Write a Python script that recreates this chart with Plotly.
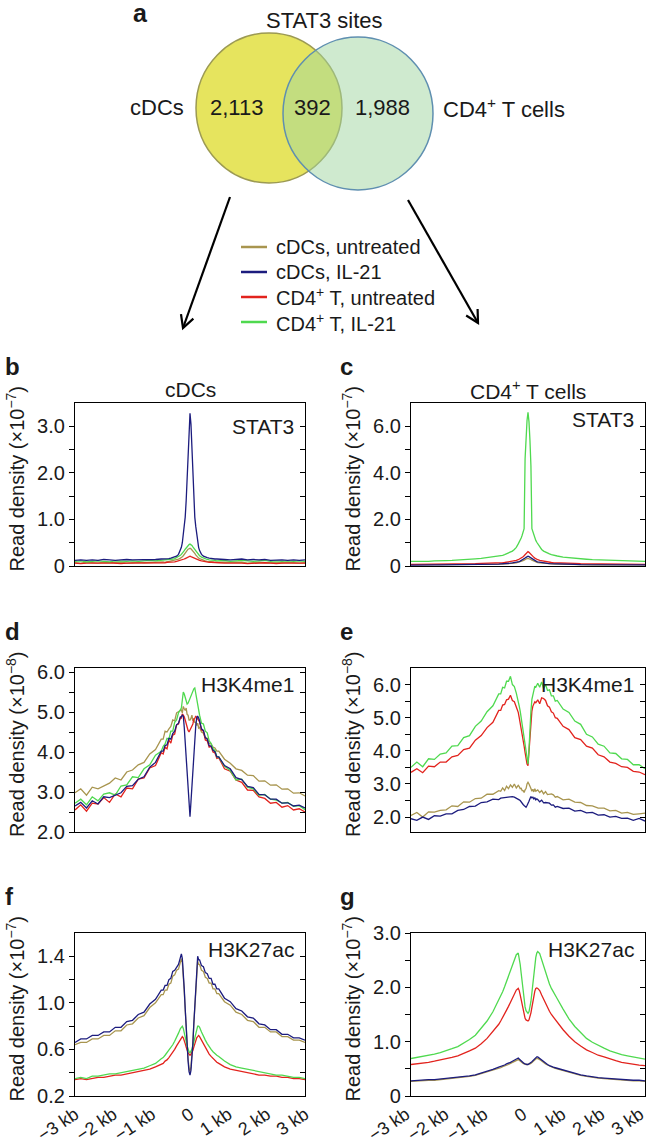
import math
import plotly.graph_objects as go

W, H = 650, 1144
FONT = "Liberation Sans, Arial, Helvetica, sans-serif"
INK = "#1a1a1a"

# ---------------- data ----------------
X_BP = [-3000, -2850, -2700, -2550, -2400, -2250, -2100, -1950, -1800, -1650, -1500, -1350, -1200, -1050, -900, -750,
        -700, -650, -600, -550, -500, -450, -400, -350, -300, -250,
        -225, -200, -175, -150, -125, -100, -75, -50, -25, 0, 25, 50, 75, 100, 125, 150, 175, 200, 225,
        250, 300, 350, 400, 450, 500, 550, 600, 650, 700,
        750, 900, 1050, 1200, 1350, 1500, 1650, 1800, 1950, 2100, 2250, 2400, 2550, 2700, 2850, 3000]

SERIES = ["cDCs, untreated", "cDCs, IL-21", "CD4<sup>+</sup> T, untreated", "CD4<sup>+</sup> T, IL-21"]
COLORS = ["#a8954f", "#1c1c7e", "#e2231d", "#4fd94f"]

VENN_TITLE = "STAT3 sites"
VENN_SETS = ["cDCs", "CD4<sup>+</sup> T cells"]
VENN_COUNTS = ["2,113", "392", "1,988"]

X_TICKVALS = [-3000, -2000, -1000, 0, 1000, 2000, 3000]
X_TICKTEXT = ["\u22123 kb", "\u22122 kb", "\u22121 kb", "0", "1 kb", "2 kb", "3 kb"]

# panel b : cDCs, STAT3 (x1e-7)
B_UNT_CDC = [0.07,0.06,0.08,0.07,0.06,0.08,0.07,0.07,0.08,0.06,0.07,0.08,0.07,0.08,0.08,0.09,
             0.09,0.08,0.09,0.10,0.10,0.11,0.12,0.13,0.15,0.17,
             0.18,0.20,0.22,0.25,0.28,0.31,0.34,0.36,0.37,0.38,0.37,0.35,0.33,0.30,0.27,0.24,0.21,0.19,0.17,
             0.16,0.14,0.12,0.11,0.10,0.10,0.09,0.09,0.08,0.08,
             0.08,0.07,0.08,0.07,0.08,0.06,0.07,0.08,0.07,0.07,0.06,0.07,0.08,0.07,0.06,0.07]
B_IL21_CDC = [0.12,0.13,0.12,0.13,0.12,0.14,0.13,0.12,0.13,0.14,0.13,0.13,0.14,0.13,0.14,0.15,
              0.15,0.15,0.16,0.16,0.17,0.18,0.19,0.21,0.25,0.33,
              0.40,0.50,0.65,0.85,1.05,1.40,1.90,2.50,3.05,3.28,3.05,2.50,1.90,1.40,1.05,0.85,0.65,0.50,0.40,
              0.33,0.25,0.21,0.19,0.18,0.17,0.16,0.16,0.15,0.15,
              0.15,0.14,0.13,0.14,0.15,0.13,0.14,0.13,0.14,0.12,0.13,0.13,0.12,0.13,0.12,0.13]
B_UNT_CD4 = [0.06,0.05,0.06,0.06,0.05,0.06,0.07,0.06,0.05,0.06,0.06,0.07,0.06,0.06,0.07,0.07,
             0.07,0.07,0.08,0.08,0.08,0.09,0.09,0.10,0.11,0.12,
             0.12,0.13,0.14,0.15,0.16,0.17,0.18,0.19,0.20,0.21,0.20,0.19,0.18,0.17,0.16,0.15,0.14,0.13,0.12,
             0.12,0.11,0.10,0.09,0.09,0.08,0.08,0.08,0.07,0.07,
             0.07,0.06,0.06,0.07,0.06,0.05,0.06,0.06,0.07,0.06,0.05,0.06,0.06,0.05,0.06,0.06]
B_IL21_CD4 = [0.10,0.11,0.09,0.10,0.11,0.10,0.09,0.11,0.10,0.10,0.11,0.10,0.11,0.12,0.11,0.12,
              0.12,0.13,0.13,0.14,0.14,0.15,0.16,0.18,0.20,0.23,
              0.25,0.27,0.30,0.33,0.36,0.39,0.42,0.44,0.46,0.47,0.46,0.44,0.41,0.38,0.35,0.32,0.29,0.26,0.24,
              0.22,0.19,0.17,0.15,0.14,0.13,0.13,0.12,0.12,0.11,
              0.11,0.12,0.10,0.11,0.12,0.11,0.10,0.11,0.12,0.10,0.11,0.10,0.11,0.10,0.11,0.10]

# panel c : CD4+ T cells, STAT3 (x1e-7)
C_UNT_CDC = [0.05,0.05,0.06,0.05,0.05,0.06,0.05,0.06,0.06,0.05,0.06,0.06,0.07,0.07,0.07,0.08,
             0.08,0.08,0.09,0.09,0.10,0.10,0.11,0.12,0.13,0.15,
             0.16,0.17,0.19,0.21,0.23,0.25,0.28,0.30,0.32,0.33,0.32,0.30,0.28,0.25,0.23,0.21,0.19,0.17,0.16,
             0.15,0.13,0.12,0.11,0.10,0.10,0.09,0.09,0.08,0.08,
             0.08,0.07,0.07,0.07,0.06,0.06,0.05,0.06,0.06,0.05,0.05,0.06,0.05,0.05,0.05,0.05]
C_IL21_CDC = [0.04,0.05,0.05,0.04,0.05,0.05,0.05,0.06,0.05,0.06,0.06,0.06,0.07,0.07,0.08,0.08,
              0.09,0.09,0.10,0.10,0.11,0.12,0.13,0.14,0.16,0.18,
              0.19,0.21,0.23,0.25,0.28,0.31,0.34,0.37,0.40,0.42,0.40,0.37,0.34,0.31,0.28,0.25,0.23,0.21,0.19,
              0.18,0.16,0.14,0.13,0.12,0.11,0.10,0.10,0.09,0.09,
              0.08,0.08,0.07,0.07,0.06,0.06,0.06,0.05,0.05,0.05,0.05,0.04,0.05,0.05,0.04,0.05]
C_UNT_CD4 = [0.07,0.07,0.08,0.07,0.08,0.08,0.08,0.09,0.09,0.09,0.10,0.10,0.11,0.11,0.12,0.13,
             0.14,0.14,0.15,0.16,0.17,0.18,0.20,0.22,0.24,0.27,
             0.29,0.31,0.34,0.37,0.40,0.44,0.49,0.54,0.59,0.62,0.59,0.54,0.49,0.44,0.40,0.37,0.34,0.31,0.29,
             0.27,0.24,0.22,0.20,0.18,0.17,0.16,0.15,0.14,0.14,
             0.13,0.12,0.11,0.11,0.10,0.10,0.09,0.09,0.09,0.08,0.08,0.08,0.07,0.08,0.07,0.07]
C_IL21_CD4 = [0.20,0.19,0.21,0.20,0.22,0.21,0.23,0.24,0.25,0.27,0.29,0.31,0.33,0.36,0.39,0.43,
              0.44,0.46,0.49,0.52,0.55,0.59,0.64,0.71,0.80,0.95,
              1.02,1.10,1.20,1.32,1.45,1.60,4.60,5.55,6.25,6.60,6.20,5.40,4.30,1.60,1.45,1.32,1.20,1.10,1.02,
              0.95,0.80,0.71,0.64,0.59,0.55,0.52,0.49,0.46,0.44,
              0.43,0.38,0.35,0.33,0.31,0.29,0.27,0.26,0.24,0.23,0.22,0.21,0.22,0.20,0.21,0.20]

# panel d : cDCs, H3K4me1 (x1e-8)
D_UNT_CDC = [2.98,3.08,2.92,3.12,3.08,3.16,3.22,3.35,3.30,3.50,3.55,3.68,3.74,3.95,4.06,4.32,
             4.32,4.52,4.50,4.58,4.64,4.80,4.78,4.98,5.00,5.02,
             5.05,4.98,5.14,5.08,5.04,5.10,4.94,4.92,4.80,4.80,4.84,4.92,4.78,4.84,4.74,4.74,4.66,4.72,4.60,
             4.62,4.50,4.47,4.35,4.34,4.22,4.20,4.12,4.10,4.02,
             4.02,3.82,3.72,3.58,3.54,3.42,3.41,3.27,3.28,3.17,3.18,3.07,3.08,2.97,2.98,2.90]
D_IL21_CDC = [2.65,2.74,2.60,2.78,2.70,2.88,2.86,2.92,2.98,3.14,3.16,3.32,3.38,3.62,3.74,4.02,
              4.02,4.16,4.18,4.34,4.32,4.46,4.52,4.68,4.72,4.88,
              4.88,4.92,4.90,4.62,4.28,3.92,3.55,3.15,2.72,2.38,2.75,3.18,3.60,3.98,4.32,4.65,4.85,4.90,4.85,
              4.78,4.58,4.54,4.36,4.32,4.16,4.15,4.04,4.01,3.88,
              3.88,3.66,3.58,3.36,3.31,3.14,3.11,2.94,2.93,2.82,2.82,2.72,2.73,2.65,2.67,2.60]
D_UNT_CD4 = [2.55,2.68,2.52,2.72,2.70,2.86,2.74,2.95,2.88,3.10,3.08,3.32,3.35,3.60,3.66,3.98,
             3.95,4.12,4.08,4.30,4.22,4.42,4.45,4.68,4.70,4.86,
             4.85,4.95,4.92,4.88,4.80,4.70,4.64,4.54,4.50,4.56,4.58,4.66,4.70,4.82,4.84,4.90,4.86,4.84,4.78,
             4.75,4.55,4.52,4.30,4.28,4.12,4.14,4.00,3.98,3.84,
             3.86,3.58,3.52,3.30,3.24,3.05,3.04,2.88,2.84,2.72,2.74,2.62,2.66,2.55,2.58,2.50]
D_IL21_CD4 = [2.72,2.82,2.68,2.88,2.78,2.95,2.98,2.92,3.15,3.18,3.38,3.36,3.58,3.68,3.92,4.02,
              4.14,4.20,4.34,4.32,4.52,4.52,4.74,4.80,4.98,5.05,
              5.10,5.30,5.50,5.45,5.35,5.25,5.20,5.22,5.28,5.35,5.45,5.50,5.55,5.58,5.60,5.45,5.30,5.15,5.02,
              4.92,4.72,4.70,4.52,4.48,4.28,4.22,4.08,4.04,3.88,
              3.88,3.64,3.54,3.30,3.32,3.12,3.08,2.92,2.94,2.82,2.80,2.72,2.74,2.64,2.66,2.56]

# panel e : CD4+ T cells, H3K4me1 (x1e-8)
E_UNT_CDC = [2.05,2.14,2.00,2.16,2.15,2.20,2.22,2.34,2.32,2.46,2.45,2.56,2.57,2.69,2.69,2.80,
             2.78,2.88,2.80,2.93,2.86,2.97,2.90,3.00,2.88,2.96,
             2.92,2.86,2.87,2.80,2.80,2.74,2.82,2.86,3.00,3.05,3.00,2.90,2.86,2.78,2.84,2.76,2.86,2.78,2.80,
             2.82,2.74,2.80,2.70,2.77,2.68,2.70,2.70,2.67,2.60,
             2.62,2.52,2.54,2.45,2.44,2.35,2.34,2.27,2.27,2.19,2.20,2.12,2.14,2.08,2.10,2.12]
E_IL21_CDC = [1.95,1.90,2.00,1.93,2.04,2.03,2.10,2.10,2.20,2.23,2.32,2.33,2.44,2.46,2.54,2.53,
              2.57,2.58,2.60,2.60,2.60,2.63,2.62,2.60,2.57,2.56,
              2.52,2.50,2.45,2.42,2.38,2.35,2.32,2.30,2.35,2.40,2.48,2.55,2.62,2.58,2.60,2.55,2.58,2.52,2.55,
              2.53,2.46,2.51,2.43,2.44,2.43,2.42,2.36,2.37,2.30,
              2.32,2.26,2.27,2.18,2.20,2.13,2.14,2.06,2.07,2.00,2.02,1.96,1.97,1.90,1.96,1.88]
E_UNT_CD4 = [3.35,3.46,3.34,3.54,3.52,3.66,3.66,3.82,3.86,4.04,4.08,4.32,4.46,4.70,4.86,5.22,
             5.22,5.38,5.40,5.54,5.56,5.68,5.52,5.48,5.32,5.16,
             5.00,4.85,4.70,4.52,4.35,4.15,3.95,3.75,3.60,3.55,3.95,4.55,4.95,5.20,5.35,5.42,5.48,5.45,5.50,
             5.54,5.42,5.60,5.58,5.52,5.36,5.32,5.18,5.14,5.00,
             4.98,4.74,4.64,4.40,4.34,4.14,4.08,3.88,3.82,3.66,3.62,3.52,3.50,3.38,3.36,3.28]
E_IL21_CD4 = [3.50,3.66,3.52,3.76,3.74,3.90,3.94,4.14,4.16,4.40,4.46,4.74,4.90,5.18,5.36,5.72,
              5.72,5.92,5.90,6.10,6.10,6.25,6.00,5.94,5.74,5.52,
              5.35,5.20,5.00,4.82,4.60,4.38,4.15,3.90,3.68,3.60,4.05,4.75,5.20,5.55,5.72,5.85,5.95,5.92,5.98,
              6.04,5.92,6.08,5.88,6.00,5.82,5.84,5.66,5.66,5.50,
              5.52,5.26,5.16,4.90,4.80,4.50,4.42,4.20,4.14,3.94,3.92,3.76,3.74,3.58,3.58,3.46]

# panel f : cDCs, H3K27ac (x1e-7)
F_UNT_CDC = [0.64,0.66,0.66,0.69,0.69,0.72,0.72,0.76,0.76,0.81,0.82,0.87,0.89,0.96,1.00,1.07,
             1.07,1.11,1.11,1.16,1.17,1.23,1.24,1.28,1.29,1.35,
             1.38,1.35,1.25,1.10,0.94,0.78,0.63,0.52,0.44,0.41,0.45,0.54,0.66,0.82,0.98,1.15,1.28,1.36,1.33,
             1.33,1.28,1.27,1.22,1.21,1.17,1.17,1.12,1.12,1.08,
             1.08,1.01,0.98,0.92,0.90,0.85,0.84,0.79,0.79,0.75,0.75,0.71,0.71,0.68,0.68,0.66]
F_IL21_CDC = [0.66,0.69,0.69,0.72,0.72,0.75,0.75,0.79,0.79,0.84,0.85,0.90,0.92,0.99,1.03,1.11,
              1.11,1.15,1.15,1.20,1.21,1.27,1.28,1.31,1.33,1.39,
              1.42,1.38,1.28,1.12,0.95,0.78,0.62,0.50,0.41,0.38,0.42,0.52,0.65,0.82,1.00,1.18,1.32,1.40,1.37,
              1.37,1.32,1.31,1.26,1.25,1.21,1.21,1.16,1.16,1.12,
              1.12,1.04,1.01,0.95,0.93,0.88,0.87,0.82,0.81,0.77,0.77,0.73,0.73,0.70,0.70,0.68]
F_UNT_CD4 = [0.34,0.35,0.34,0.35,0.36,0.36,0.37,0.38,0.38,0.39,0.40,0.41,0.42,0.43,0.45,0.47,
             0.48,0.50,0.51,0.53,0.55,0.57,0.60,0.63,0.66,0.69,
             0.70,0.71,0.70,0.68,0.65,0.62,0.59,0.57,0.56,0.55,0.56,0.57,0.59,0.62,0.65,0.68,0.70,0.71,0.72,
             0.71,0.68,0.64,0.61,0.58,0.56,0.54,0.52,0.51,0.49,
             0.48,0.45,0.43,0.42,0.41,0.40,0.39,0.38,0.38,0.37,0.37,0.36,0.36,0.35,0.35,0.34]
F_IL21_CD4 = [0.35,0.36,0.35,0.37,0.37,0.38,0.39,0.39,0.40,0.41,0.42,0.43,0.44,0.46,0.48,0.52,
              0.53,0.55,0.57,0.59,0.61,0.64,0.67,0.70,0.74,0.78,
              0.79,0.80,0.78,0.75,0.71,0.67,0.63,0.60,0.58,0.57,0.58,0.60,0.63,0.67,0.71,0.75,0.78,0.80,0.80,
              0.79,0.75,0.71,0.68,0.65,0.62,0.60,0.58,0.56,0.55,
              0.54,0.50,0.47,0.45,0.44,0.43,0.42,0.41,0.40,0.39,0.38,0.38,0.37,0.36,0.36,0.35]

# panel g : CD4+ T cells, H3K27ac (x1e-7)
G_UNT_CDC = [0.27,0.28,0.28,0.29,0.29,0.30,0.31,0.32,0.33,0.34,0.36,0.38,0.41,0.44,0.47,0.51,
             0.52,0.54,0.55,0.57,0.58,0.60,0.62,0.64,0.66,0.67,
             0.66,0.64,0.62,0.61,0.60,0.59,0.58,0.58,0.58,0.58,0.58,0.59,0.60,0.62,0.64,0.66,0.67,0.68,0.69,
             0.69,0.67,0.64,0.61,0.59,0.57,0.55,0.53,0.52,0.51,
             0.50,0.46,0.43,0.40,0.38,0.36,0.34,0.33,0.32,0.31,0.30,0.29,0.29,0.28,0.28,0.27]
G_IL21_CDC = [0.28,0.29,0.29,0.30,0.30,0.31,0.32,0.33,0.34,0.35,0.37,0.39,0.42,0.45,0.49,0.53,
              0.54,0.56,0.57,0.59,0.60,0.62,0.64,0.66,0.69,0.70,
              0.68,0.66,0.64,0.62,0.61,0.60,0.59,0.58,0.58,0.58,0.59,0.60,0.61,0.63,0.65,0.67,0.69,0.71,0.72,
              0.72,0.69,0.66,0.63,0.61,0.58,0.56,0.54,0.53,0.52,
              0.51,0.47,0.44,0.41,0.39,0.37,0.35,0.34,0.33,0.32,0.31,0.30,0.30,0.29,0.29,0.28]
G_UNT_CD4 = [0.58,0.59,0.60,0.62,0.64,0.66,0.68,0.71,0.74,0.78,0.83,0.88,0.96,1.06,1.18,1.32,
             1.38,1.44,1.51,1.58,1.65,1.72,1.80,1.88,1.95,1.98,
             1.94,1.86,1.76,1.66,1.56,1.48,1.43,1.40,1.38,1.38,1.40,1.45,1.53,1.63,1.74,1.85,1.93,1.98,1.99,
             1.98,1.94,1.86,1.78,1.70,1.63,1.56,1.50,1.45,1.40,
             1.36,1.22,1.10,1.00,0.92,0.85,0.80,0.75,0.72,0.68,0.65,0.62,0.60,0.58,0.57,0.56]
G_IL21_CD4 = [0.69,0.71,0.72,0.74,0.77,0.80,0.83,0.87,0.91,0.97,1.04,1.12,1.24,1.38,1.55,1.76,
              1.84,1.92,2.01,2.11,2.21,2.31,2.41,2.51,2.60,2.63,
              2.55,2.42,2.26,2.08,1.90,1.75,1.64,1.57,1.53,1.52,1.55,1.62,1.74,1.90,2.08,2.26,2.42,2.55,2.63,
              2.66,2.62,2.50,2.38,2.26,2.15,2.06,1.98,1.91,1.85,
              1.79,1.60,1.42,1.28,1.16,1.06,0.99,0.93,0.88,0.83,0.79,0.76,0.74,0.72,0.70,0.68]

# y-axis ranges, labelled ticks and minor ticks per panel
B_YRANGE = [0, 3.5]
B_TICKS = [0, 1, 2, 3]
B_TICKTEXT = ["0", "1.0", "2.0", "3.0"]
B_MINOR = [0.5, 1.5, 2.5]
C_YRANGE = [0, 7]
C_TICKS = [0, 2, 4, 6]
C_TICKTEXT = ["0", "2.0", "4.0", "6.0"]
C_MINOR = [1, 3, 5]
D_YRANGE = [2.0, 6.1]
D_TICKS = [2.0, 3.0, 4.0, 5.0, 6.0]
D_TICKTEXT = ["2.0", "3.0", "4.0", "5.0", "6.0"]
D_MINOR = [2.5, 3.5, 4.5, 5.5]
E_YRANGE = [1.55, 6.5]
E_TICKS = [2.0, 3.0, 4.0, 5.0, 6.0]
E_TICKTEXT = ["2.0", "3.0", "4.0", "5.0", "6.0"]
E_MINOR = [2.5, 3.5, 4.5, 5.5]
F_YRANGE = [0.2, 1.6]
F_TICKS = [0.2, 0.6, 1.0, 1.4]
F_TICKTEXT = ["0.2", "0.6", "1.0", "1.4"]
F_MINOR = [0.4, 0.8, 1.2]
G_YRANGE = [0, 3.0]
G_TICKS = [0, 1.0, 2.0, 3.0]
G_TICKTEXT = ["0", "1.0", "2.0", "3.0"]
G_MINOR = [0.5, 1.5, 2.5]

PANELS = [
    dict(letter="b", title="cDCs", mark="STAT3", exp="\u22127",
         series=[B_UNT_CDC, B_IL21_CDC, B_UNT_CD4, B_IL21_CD4], yrange=B_YRANGE,
         ticks=B_TICKS, ticktext=B_TICKTEXT, minor=B_MINOR),
    dict(letter="c", title="CD4<sup>+</sup> T cells", mark="STAT3", exp="\u22127",
         series=[C_UNT_CDC, C_IL21_CDC, C_UNT_CD4, C_IL21_CD4], yrange=C_YRANGE,
         ticks=C_TICKS, ticktext=C_TICKTEXT, minor=C_MINOR),
    dict(letter="d", title=None, mark="H3K4me1", exp="\u22128",
         series=[D_UNT_CDC, D_IL21_CDC, D_UNT_CD4, D_IL21_CD4], yrange=D_YRANGE,
         ticks=D_TICKS, ticktext=D_TICKTEXT, minor=D_MINOR),
    dict(letter="e", title=None, mark="H3K4me1", exp="\u22128",
         series=[E_UNT_CDC, E_IL21_CDC, E_UNT_CD4, E_IL21_CD4], yrange=E_YRANGE,
         ticks=E_TICKS, ticktext=E_TICKTEXT, minor=E_MINOR),
    dict(letter="f", title=None, mark="H3K27ac", exp="\u22127",
         series=[F_UNT_CDC, F_IL21_CDC, F_UNT_CD4, F_IL21_CD4], yrange=F_YRANGE,
         ticks=F_TICKS, ticktext=F_TICKTEXT, minor=F_MINOR),
    dict(letter="g", title=None, mark="H3K27ac", exp="\u22127",
         series=[G_UNT_CDC, G_IL21_CDC, G_UNT_CD4, G_IL21_CD4], yrange=G_YRANGE,
         ticks=G_TICKS, ticktext=G_TICKTEXT, minor=G_MINOR),
]

for p in PANELS:
    for s in p["series"]:
        assert len(s) == len(X_BP), (p["letter"], len(s))

# ---------------- layout geometry (pixels) ----------------
COLS = [(75, 305), (411, 645)]
ROWS = [(403, 566), (668, 832), (933, 1096)]
DRAW_ORDER = [0, 2, 3, 1]
LEGEND_ROWS = [247, 272, 297, 322]


def fx(px):
    return px / W


def fy(py):
    return 1 - py / H


fig = go.Figure()
layout = dict(
    template="none",
    width=W, height=H, margin=dict(l=0, r=0, t=0, b=0, pad=0), autosize=False,
    paper_bgcolor="white", plot_bgcolor="white",
    font=dict(family=FONT, color=INK, size=20),
    showlegend=False,
)
annotations = []
shapes = []

for i, p in enumerate(PANELS):
    n = i + 1
    col = COLS[i % 2]
    row = ROWS[i // 2]
    xa = "x" if n == 1 else f"x{n}"
    ya = "y" if n == 1 else f"y{n}"
    bottom = (i // 2) == 2
    for k in DRAW_ORDER:
        fig.add_trace(go.Scatter(
            x=X_BP, y=p["series"][k], mode="lines", name=SERIES[k],
            line=dict(color=COLORS[k], width=1.3), xaxis=xa, yaxis=ya,
            showlegend=False, hoverinfo="skip"))
    layout[f"xaxis{n}"] = dict(
        domain=[fx(col[0]), fx(col[1])], anchor=ya, range=[-3000, 3000], automargin=False,
        showline=True, linecolor="black", linewidth=1.2, mirror=True,
        showgrid=False, zeroline=False, ticks="",
        showticklabels=bottom, tickvals=X_TICKVALS, ticktext=X_TICKTEXT,
        tickangle=-34, ticklabelshift=(0 if i % 2 == 0 else -5), ticklabeloverflow="allow",
        tickfont=dict(size=18, family=FONT, color=INK))
    layout[f"yaxis{n}"] = dict(
        domain=[fy(row[1]), fy(row[0])], anchor=xa, range=p["yrange"], automargin=False,
        showline=True, linecolor="black", linewidth=1.2, mirror=True,
        showgrid=False, zeroline=False, ticks="outside", ticklen=5, tickwidth=1.2,
        tickcolor="black", tickmode="array", tickvals=p["ticks"], ticktext=p["ticktext"],
        minor=dict(tickmode="array", tickvals=p["minor"], ticks="outside", ticklen=5,
                   tickwidth=1.2, tickcolor="black", showgrid=False),
        tickfont=dict(size=20, family=FONT, color=INK))
    # right-side inward ticks
    m = n + 6
    fig.add_trace(go.Scatter(x=[], y=[], xaxis=xa, yaxis=f"y{m}", showlegend=False, hoverinfo="skip"))
    layout[f"yaxis{m}"] = dict(
        overlaying=ya, anchor=xa, side="right", range=p["yrange"], automargin=False,
        showline=False, showgrid=False, zeroline=False, ticks="inside", ticklen=5,
        tickwidth=1.2, tickcolor="black", tickmode="array", tickvals=p["ticks"],
        minor=dict(tickmode="array", tickvals=p["minor"], ticks="inside", ticklen=5,
                   tickwidth=1.2, tickcolor="black", showgrid=False),
        showticklabels=False)

    # panel letter
    letter_x = 3 if i % 2 == 0 else 338
    annotations.append(dict(x=fx(letter_x), y=fy(row[0] - 37), xref="paper", yref="paper",
                            text=f"<b>{p['letter']}</b>", showarrow=False, xanchor="left",
                            yanchor="middle", font=dict(size=24, family=FONT, color=INK)))
    if p["title"]:
        annotations.append(dict(x=fx((col[0] + col[1]) / 2), y=fy(row[0] - 13), xref="paper", yref="paper",
                                text=p["title"], showarrow=False, xanchor="center", yanchor="middle",
                                font=dict(size=21, family=FONT, color=INK)))
    mark_dy = 23 if i == 0 else 16
    annotations.append(dict(x=fx(col[1] - 9), y=fy(row[0] + mark_dy), xref="paper", yref="paper",
                            text=p["mark"], showarrow=False, xanchor="right", yanchor="middle",
                            font=dict(size=21, family=FONT, color=INK)))
    title_x = 15 if i % 2 == 0 else 351
    annotations.append(dict(x=fx(title_x), y=fy((row[0] + row[1]) / 2 - 6), xref="paper", yref="paper",
                            text=f"Read density (\u00d710<sup>{p['exp']}</sup>)", showarrow=False,
                            textangle=-90, xanchor="center", yanchor="middle",
                            font=dict(size=20, family=FONT, color=INK)))

# ---------------- Venn diagram (panel a) ----------------
shapes.append(dict(type="circle", xref="paper", yref="paper",
                   x0=fx(196), x1=fx(342), y0=fy(183), y1=fy(33),
                   fillcolor="#e6e45e", line=dict(color="#9c9a52", width=1.5)))
shapes.append(dict(type="circle", xref="paper", yref="paper",
                   x0=fx(283), x1=fx(433), y0=fy(190), y1=fy(37),
                   fillcolor="rgba(160,214,160,0.5)", line=dict(color="#5f8fb0", width=1.5)))

annotations.append(dict(x=fx(131), y=fy(13), xref="paper", yref="paper", text="<b>a</b>",
                        showarrow=False, xanchor="left", yanchor="middle",
                        font=dict(size=25, family=FONT, color=INK)))
annotations.append(dict(x=fx(324), y=fy(20), xref="paper", yref="paper", text=VENN_TITLE,
                        showarrow=False, xanchor="center", yanchor="middle",
                        font=dict(size=22, family=FONT, color=INK)))
venn_text = [(157, VENN_SETS[0]), (236, VENN_COUNTS[0]), (312, VENN_COUNTS[1]),
             (382, VENN_COUNTS[2]), (504, VENN_SETS[1])]
for vx, t in venn_text:
    annotations.append(dict(x=fx(vx), y=fy(108), xref="paper", yref="paper", text=t,
                            showarrow=False, xanchor="center", yanchor="middle",
                            font=dict(size=22, family=FONT, color=INK)))


def arrow(x0, y0, x1, y1, arm=14, ang=28):
    dx, dy = x1 - x0, y1 - y0
    L = math.hypot(dx, dy)
    bx, by = -dx / L, -dy / L
    pts = []
    for s in (1, -1):
        a = math.radians(ang) * s
        rx = bx * math.cos(a) - by * math.sin(a)
        ry = bx * math.sin(a) + by * math.cos(a)
        pts.append((x1 + arm * rx, y1 + arm * ry))
    line = dict(type="path", xref="paper", yref="paper",
                path=f"M{fx(x0)},{fy(y0)} L{fx(x1)},{fy(y1)}",
                line=dict(color="black", width=2.2))
    head = dict(type="path", xref="paper", yref="paper",
                path=(f"M{fx(pts[0][0])},{fy(pts[0][1])} L{fx(x1)},{fy(y1)} "
                      f"L{fx(pts[1][0])},{fy(pts[1][1])}"),
                line=dict(color="black", width=2.2))
    return [line, head]


shapes += arrow(230, 197, 183, 328)
shapes += arrow(408, 200, 478, 323)

# legend (drawn as key lines + labels)
for k, ly in enumerate(LEGEND_ROWS):
    shapes.append(dict(type="line", xref="paper", yref="paper",
                       x0=fx(241), x1=fx(267), y0=fy(ly), y1=fy(ly),
                       line=dict(color=COLORS[k], width=2.5)))
    annotations.append(dict(x=fx(274), y=fy(ly), xref="paper", yref="paper", text=SERIES[k],
                            showarrow=False, xanchor="left", yanchor="middle",
                            font=dict(size=20, family=FONT, color=INK)))

layout["annotations"] = annotations
layout["shapes"] = shapes

fig.update_layout(**layout)
fig.write_html("out.html", config={"displayModeBar": False})
